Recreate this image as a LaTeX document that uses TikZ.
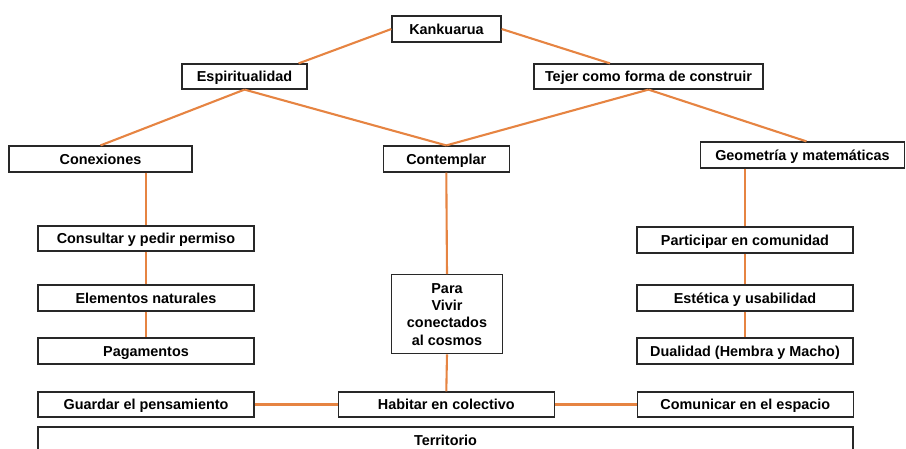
\documentclass[tikz,border=0pt]{standalone}
\usepackage{fontspec}
\setmainfont{Liberation Sans}
\definecolor{conn}{RGB}{230,132,66}
\definecolor{edge}{RGB}{40,40,40}
\begin{document}
\begin{tikzpicture}[x=1pt,y=-1pt,
  box/.style={draw=edge,line width=1.2pt,fill=white,inner sep=0pt,align=center,
    font=\fontsize{14.4}{17.4}\selectfont\bfseries},
  one/.style={box,text height=10.4pt,text depth=0pt},
  link/.style={draw=conn,line width=2.1pt}]
\useasboundingbox (0,0) rectangle (906,448);
% nodes
\node[one,minimum width=109,minimum height=26] (kank) at (446.5,29) {Kankuarua};
\node[one,minimum width=125,minimum height=25] (espi) at (244.5,76.5) {Espiritualidad};
\node[one,minimum width=229,minimum height=25] (tejer) at (648.5,76.5) {Tejer como forma de construir};
\node[one,minimum width=204,minimum height=26] (geom) at (802.5,155) {Geometría y matemáticas};
\node[one,minimum width=183,minimum height=26] (conex) at (100.5,159) {Conexiones};
\node[one,minimum width=126,minimum height=26] (contem) at (446.3,159) {Contemplar};
\node[one,minimum width=216,minimum height=25] (consul) at (146,238.5) {Consultar y pedir permiso};
\node[one,minimum width=216,minimum height=26] (elem) at (146,298) {Elementos naturales};
\node[one,minimum width=216,minimum height=26] (pagam) at (146,351) {Pagamentos};
\node[one,minimum width=216,minimum height=26] (partic) at (745,240) {Participar en comunidad};
\node[one,minimum width=216,minimum height=26] (estet) at (745,298) {Estética y usabilidad};
\node[one,minimum width=216,minimum height=26] (dual) at (745,351) {Dualidad (Hembra y Macho)};
\node[box,minimum width=111,minimum height=79] (para) at (447,314.3) {Para\\Vivir\\conectados\\al cosmos};
\node[one,minimum width=216,minimum height=25] (guard) at (146,404.5) {Guardar el pensamiento};
\node[one,minimum width=216,minimum height=25] (habit) at (446.3,404.5) {Habitar en colectivo};
\node[one,minimum width=216,minimum height=25] (comun) at (745.3,404.5) {Comunicar en el espacio};
\node[one,minimum width=815,minimum height=26] (terr) at (445.5,440) {Territorio};
% connectors
\draw[link] (kank.west) -- ([xshift=-9]espi.north east);
\draw[link] (kank.east) -- ([xshift=-38.5]tejer.north);
\draw[link] (espi.south) -- (conex.north);
\draw[link] (espi.south) -- (contem.north);
\draw[link] (tejer.south) -- (contem.north);
\draw[link] (tejer.south) -- ([xshift=4]geom.north);
\draw[link] (consul.north |- conex.south) -- (consul.north);
\draw[link] (consul.south) -- (elem.north);
\draw[link] (elem.south) -- (pagam.north);
\draw[link] (partic.north |- geom.south) -- (partic.north);
\draw[link] (partic.south) -- (estet.north);
\draw[link] (estet.south) -- (dual.north);
\draw[link] (contem.south) -- (para.north);
\draw[link] (para.south) -- (habit.north);
\draw[link] (guard.east) -- (habit.west);
\draw[link] (habit.east) -- (comun.west);
\end{tikzpicture}
\end{document}
